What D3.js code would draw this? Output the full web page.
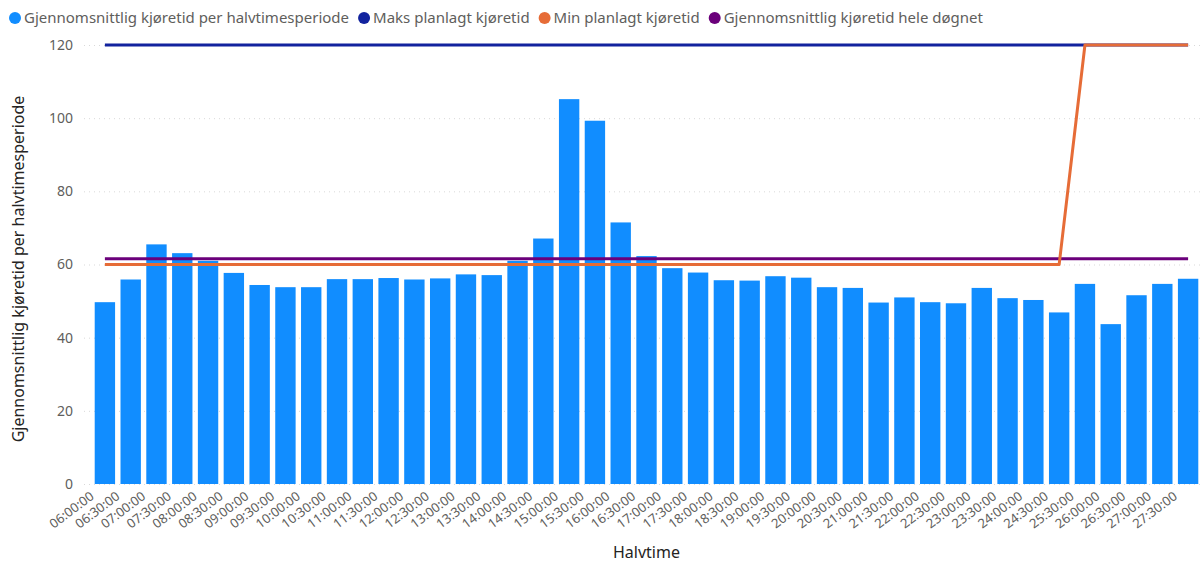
<!DOCTYPE html>
<html>
<head>
<meta charset="utf-8">
<script src="https://cdn.jsdelivr.net/npm/d3@7"></script>
<style>
  html, body { margin: 0; padding: 0; background: #fff; }
  svg { display: block; font-family: "Segoe UI", "Noto Sans", sans-serif; }
</style>
</head>
<body>
<svg id="chart" width="1204" height="564"></svg>
<script>
// Half-hour periods (service day continues past midnight as 24:00+)
const periods = [
  "06:00:00","06:30:00","07:00:00","07:30:00","08:00:00","08:30:00","09:00:00","09:30:00",
  "10:00:00","10:30:00","11:00:00","11:30:00","12:00:00","12:30:00","13:00:00","13:30:00",
  "14:00:00","14:30:00","15:00:00","15:30:00","16:00:00","16:30:00","17:00:00","17:30:00",
  "18:00:00","18:30:00","19:00:00","19:30:00","20:00:00","20:30:00","21:00:00","21:30:00",
  "22:00:00","22:30:00","23:00:00","23:30:00","24:00:00","24:30:00","25:30:00","26:00:00",
  "26:30:00","27:00:00","27:30:00"
];
// Average travel time per half-hour period
const avgPerPeriod = [
  49.7, 55.9, 65.5, 63.1, 61.0, 57.7, 54.4, 53.8, 53.8, 56.0, 56.0, 56.3, 55.9, 56.2,
  57.3, 57.1, 61.0, 67.1, 105.2, 99.3, 71.5, 62.3, 59.0, 57.8, 55.7, 55.6, 56.8, 56.4,
  53.8, 53.6, 49.6, 51.0, 49.7, 49.4, 53.6, 50.8, 50.3, 46.9, 54.7, 43.7, 51.6, 54.7, 56.1
];
// Planned max / min travel time per period
const maxPlanned = [
  120,120,120,120,120,120,120,120,120,120,120,120,120,120,120,120,120,120,120,120,120,120,
  120,120,120,120,120,120,120,120,120,120,120,120,120,120,120,120,120,120,120,120,120
];
const minPlanned = [
  60,60,60,60,60,60,60,60,60,60,60,60,60,60,60,60,60,60,60,60,60,60,
  60,60,60,60,60,60,60,60,60,60,60,60,60,60,60,60,120,120,120,120,120
];
// Average travel time over the whole day
const avgWholeDay = 61.6;
const yTicks = [0, 20, 40, 60, 80, 100, 120];

const seriesNames = [
  "Gjennomsnittlig kjøretid per halvtimesperiode",
  "Maks planlagt kjøretid",
  "Min planlagt kjøretid",
  "Gjennomsnittlig kjøretid hele døgnet"
];
const colors = ["#118DFF", "#12239E", "#E66C37", "#6B007B"];

const svg = d3.select("#chart");
const margin = { left: 92, right: 3, top: 45, bottom: 80 };
const W = 1204, H = 564;

const x = d3.scaleBand().domain(periods).range([margin.left, W - margin.right]).paddingInner(0.21).paddingOuter(0.105);
const y = d3.scaleLinear().domain([0, 120]).range([H - margin.bottom, margin.top]);

// gridlines
svg.append("g").selectAll("line").data(yTicks).join("line")
  .attr("x1", 84).attr("x2", W - 2)
  .attr("y1", d => y(d) + 0.5).attr("y2", d => y(d) + 0.5)
  .attr("stroke", "#d9d9d9").attr("stroke-width", 1).attr("stroke-dasharray", "1,4");

// y axis labels
const yAxis = svg.append("g").attr("transform", `translate(73,0)`)
  .call(d3.axisLeft(y).tickValues(yTicks).tickSize(0).tickPadding(0));
yAxis.select(".domain").remove();
yAxis.selectAll("text").attr("fill", "#605E5C").style("font-size", "14px")
  .style("font-family", "'Segoe UI', 'Noto Sans', sans-serif");

// bars
svg.append("g").selectAll("rect").data(avgPerPeriod).join("rect")
  .attr("x", (d, i) => x(periods[i]))
  .attr("width", x.bandwidth())
  .attr("y", d => y(d))
  .attr("height", d => y(0) - y(d))
  .attr("fill", colors[0]);

// lines
const cx = (d, i) => x(periods[i]) + x.bandwidth() / 2;
const lineGen = d3.line().x(cx).y(d => y(d));
svg.append("path").datum(maxPlanned).attr("d", lineGen)
  .attr("fill", "none").attr("stroke", colors[1]).attr("stroke-width", 3);
svg.append("path").datum(periods.map(() => avgWholeDay)).attr("d", lineGen)
  .attr("fill", "none").attr("stroke", colors[3]).attr("stroke-width", 3);
svg.append("path").datum(minPlanned).attr("d", lineGen)
  .attr("fill", "none").attr("stroke", colors[2]).attr("stroke-width", 3).attr("stroke-linejoin", "round");

// x axis labels
const xAxis = svg.append("g").attr("transform", `translate(0,${y(0)})`)
  .call(d3.axisBottom(x).tickSize(0).tickPadding(0));
xAxis.select(".domain").remove();
xAxis.selectAll("text")
  .attr("fill", "#605E5C").style("font-size", "13px")
  .style("font-family", "'Segoe UI', 'Noto Sans', sans-serif")
  .attr("text-anchor", "end").attr("dy", null).attr("y", 0)
  .attr("transform", "translate(-10,14) rotate(-37)");

// axis titles
svg.append("text").attr("x", (margin.left + W - margin.right) / 2).attr("y", 558)
  .attr("text-anchor", "middle").attr("fill", "#252423").style("font-size", "16px")
  .text("Halvtime");
svg.append("text").attr("transform", `translate(24,${269}) rotate(-90)`)
  .attr("text-anchor", "middle").attr("fill", "#252423").style("font-size", "16px")
  .text("Gjennomsnittlig kjøretid per halvtimesperiode");

// legend
const legend = svg.append("g").attr("transform", "translate(8,18)");
let lx = 0;
seriesNames.forEach((name, i) => {
  const g = legend.append("g").attr("transform", `translate(${lx},0)`);
  g.append("circle").attr("cx", 7).attr("cy", 0).attr("r", 6).attr("fill", colors[i]);
  const t = g.append("text").attr("x", 16).attr("y", 5).attr("fill", "#605E5C")
    .style("font-size", "15px").text(name);
  lx += 16 + t.node().getComputedTextLength() + 8;
});
</script>
</body>
</html>
